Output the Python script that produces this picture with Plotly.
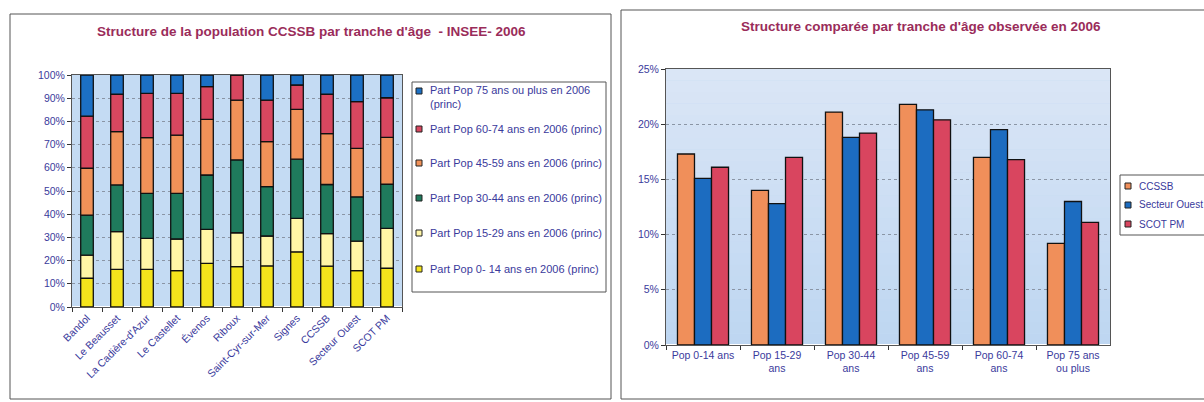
import numpy as np
import plotly.graph_objects as go

W, H = 1204, 402

# ---- left chart: population share by age band, per commune (%) ----
communes = ["Bandol", "Le Beausset", "La Cadière-d'Azur", "Le Castellet", "Évenos",
            "Riboux", "Saint-Cyr-sur-Mer", "Signes", "CCSSB", "Secteur Ouest", "SCOT PM"]
part_0_14 = [12.4, 16.2, 16.2, 15.7, 18.8, 17.4, 17.7, 23.8, 17.6, 15.7, 16.7]
part_15_29 = [10.0, 16.3, 13.4, 13.6, 14.7, 14.6, 12.9, 14.4, 14.0, 12.7, 17.2]
part_30_44 = [17.2, 20.1, 19.4, 19.7, 23.4, 31.4, 21.3, 25.5, 21.2, 19.1, 19.0]
part_45_59 = [20.2, 23.0, 24.0, 25.1, 24.0, 25.8, 19.4, 21.5, 21.9, 20.9, 20.2]
part_60_74 = [22.5, 16.1, 19.1, 18.0, 14.1, 10.8, 17.9, 10.5, 17.0, 20.1, 17.1]
part_75_plus = [17.7, 8.3, 7.9, 7.9, 5.0, 0.0, 10.8, 4.3, 8.3, 11.5, 9.8]

left_series = [
    ("Part Pop 0- 14 ans en 2006 (princ)", part_0_14, "#f4e41c"),
    ("Part Pop 15-29 ans en 2006 (princ)", part_15_29, "#fff5a6"),
    ("Part Pop 30-44 ans en 2006 (princ)", part_30_44, "#1f7a5c"),
    ("Part Pop 45-59 ans en 2006 (princ)", part_45_59, "#f09158"),
    ("Part Pop 60-74 ans en 2006 (princ)", part_60_74, "#d8475f"),
    ("Part Pop 75 ans ou plus en 2006<br>(princ)", part_75_plus, "#1c70c4"),
]

# ---- right chart: compared structure by age band (%) ----
tranches = ["Pop 0-14 ans", "Pop 15-29<br>ans", "Pop 30-44<br>ans", "Pop 45-59<br>ans",
            "Pop 60-74<br>ans", "Pop 75 ans<br>ou plus"]
ccssb = [17.3, 14.0, 21.1, 21.8, 17.0, 9.2]
secteur_ouest = [15.1, 12.8, 18.8, 21.3, 19.5, 13.0]
scot_pm = [16.1, 17.0, 19.2, 20.4, 16.8, 11.1]

right_series = [
    ("CCSSB", ccssb, "#f08f5a"),
    ("Secteur Ouest", secteur_ouest, "#1c6cc0"),
    ("SCOT PM", scot_pm, "#d9455f"),
]

FONT = "Arial, 'Liberation Sans', sans-serif"
TXT = "#3a3a9c"
TITLE = "#9a2c5a"
EDGE = "#111111"


def px_x(x):
    return x / W


def px_y(y):
    return 1 - y / H


fig = go.Figure()

# stacked columns, drawn with explicit bases
base = np.zeros(len(communes))
for name, vals, col in left_series:
    v = np.array(vals, dtype=float)
    fig.add_trace(go.Bar(
        x=communes, y=v, base=base.copy(), name=name.replace("<br>", " "),
        marker=dict(color=col, line=dict(color=EDGE, width=1.3)),
        width=0.42, offset=-0.21, xaxis="x", yaxis="y", showlegend=False,
    ))
    base = base + v

# grouped columns
bw = 0.23
for j, (name, vals, col) in enumerate(right_series):
    fig.add_trace(go.Bar(
        x=tranches, y=vals, name=name,
        marker=dict(color=col, line=dict(color=EDGE, width=1.3)),
        width=bw, offset=-1.5 * bw + j * bw, xaxis="x2", yaxis="y2", showlegend=False,
    ))

axis_common = dict(
    showline=True, linecolor="#555555", linewidth=1, mirror=True,
    tickfont=dict(family=FONT, size=10.5, color=TXT),
    ticks="outside", ticklen=4, tickcolor="#333333",
)

fig.update_layout(
    width=W, height=H,
    margin=dict(l=0, r=0, t=0, b=0, autoexpand=False),
    paper_bgcolor="white",
    barmode="overlay",
    xaxis=dict(domain=[px_x(72), px_x(402)], anchor="y", tickangle=-45,
               tickson="boundaries", **axis_common),
    yaxis=dict(domain=[px_y(307), px_y(75)], anchor="x", range=[0, 100], dtick=10,
               ticksuffix="%", showgrid=True, gridcolor="#8a95a5", griddash="dot",
               gridwidth=1, **axis_common),
    xaxis2=dict(domain=[px_x(666), px_x(1110)], anchor="y2",
                tickson="boundaries", tickangle=0, **axis_common),
    yaxis2=dict(domain=[px_y(345), px_y(69)], anchor="x2", range=[0, 25], dtick=5,
                ticksuffix="%", showgrid=True, gridcolor="#8a95a5", griddash="dot",
                gridwidth=1, **axis_common),
    plot_bgcolor="#c4dbf3",
)

# soft vertical gradient behind the grouped columns
top_rgb = np.array([0xdb, 0xe6, 0xf6])
bot_rgb = np.array([0xbd, 0xd6, 0xf1])
n_band = 24
for k in range(n_band):
    t = (k + 0.5) / n_band
    c = (bot_rgb * (1 - t) + top_rgb * t).round().astype(int)
    fig.add_shape(type="rect", xref="x2 domain", yref="y2 domain",
                  x0=0, x1=1, y0=k / n_band, y1=(k + 1) / n_band,
                  fillcolor=f"rgb({c[0]},{c[1]},{c[2]})", line=dict(width=0),
                  layer="below")

# chart titles
fig.add_annotation(text="<b>Structure de la population CCSSB par tranche d'âge  - INSEE- 2006</b>",
                   x=px_x(311), y=px_y(31), xref="paper", yref="paper",
                   xanchor="center", yanchor="middle",
                   showarrow=False, font=dict(family=FONT, size=13.5, color=TITLE))
fig.add_annotation(text="<b>Structure comparée par tranche d'âge observée en 2006</b>",
                   x=px_x(921), y=px_y(27), xref="paper", yref="paper",
                   xanchor="center", yanchor="middle",
                   showarrow=False, font=dict(family=FONT, size=13.5, color=TITLE))

# chart frames
fig.add_shape(type="rect", xref="paper", yref="paper",
              x0=px_x(10), y0=px_y(399), x1=px_x(611), y1=px_y(14),
              line=dict(color="#555555", width=1), layer="below")
fig.add_shape(type="rect", xref="paper", yref="paper",
              x0=px_x(621), y0=px_y(399), x1=px_x(1230), y1=px_y(10),
              line=dict(color="#555555", width=1), layer="below")


def legend_box(x0, y0, x1, y1, entries, sym_x, txt_x, size):
    """Boxed key: small squares with their series names."""
    fig.add_shape(type="rect", xref="paper", yref="paper",
                  x0=px_x(x0), y0=px_y(y1), x1=px_x(x1), y1=px_y(y0),
                  fillcolor="white", line=dict(color="#555555", width=1))
    for label, col, yc, ytxt in entries:
        fig.add_shape(type="rect", xref="paper", yref="paper",
                      x0=px_x(sym_x), x1=px_x(sym_x + 6),
                      y0=px_y(yc + 3), y1=px_y(yc - 3),
                      fillcolor=col, line=dict(color="#222222", width=1))
        fig.add_annotation(text=label, x=px_x(txt_x), y=px_y(ytxt),
                           xref="paper", yref="paper", xanchor="left",
                           yanchor="middle", align="left", showarrow=False,
                           font=dict(family=FONT, size=size, color=TXT))


# left key, oldest band on top
left_rows = [91, 129, 163, 198, 233, 269]
left_entries = []
for (name, _, col), yc in zip(reversed(left_series), left_rows):
    ytxt = yc + 6.5 if "<br>" in name else yc
    left_entries.append((name, col, yc, ytxt))
legend_box(412, 82, 606, 292, left_entries, 416, 428, 11)

right_rows = [186, 205, 224]
right_entries = [(name, col, yc, yc) for (name, _, col), yc in zip(right_series, right_rows)]
legend_box(1120, 175, 1230, 235, right_entries, 1125, 1137, 10)

fig.write_html("out.html")
